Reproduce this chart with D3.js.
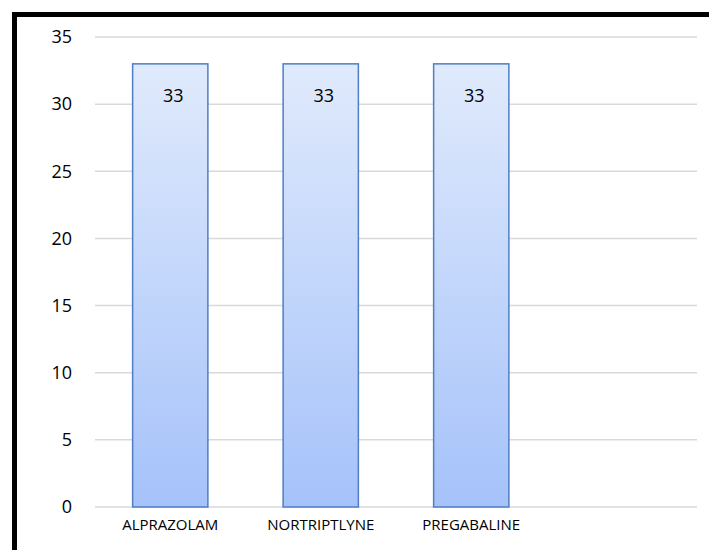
<!DOCTYPE html>
<html>
<head>
<meta charset="utf-8">
<script src="https://cdn.jsdelivr.net/npm/d3@7"></script>
<style>
  body { margin: 0; background: #fff; }
  svg { display: block; font-family: 'Open Sans', sans-serif; }
</style>
</head>
<body>
<svg></svg>
<script>
// data
const categories = ['ALPRAZOLAM', 'NORTRIPTLYNE', 'PREGABALINE', '']
const values = [33, 33, 33, null]
const yTicks = [0, 5, 10, 15, 20, 25, 30, 35]

const width = 709
const height = 550
// plot area
const plotLeft = 95
const plotRight = 697
const plotTop = 37
const plotBottom = 507

const svg = d3.select('svg')
  .attr('width', width)
  .attr('height', height)

// gradient for the bars
const grad = svg.append('defs').append('linearGradient')
  .attr('id', 'barGrad')
  .attr('x1', 0).attr('y1', 0).attr('x2', 0).attr('y2', 1)
grad.append('stop').attr('offset', '0%').attr('stop-color', '#e0eafc')
grad.append('stop').attr('offset', '100%').attr('stop-color', '#a5c2fa')

// frame
svg.append('rect')
  .attr('x', 14.5)
  .attr('y', 14.5)
  .attr('width', 800)
  .attr('height', 600)
  .attr('fill', 'none')
  .attr('stroke', '#000')
  .attr('stroke-width', 5)

const xScale = d3.scaleBand()
  .domain(categories)
  .range([plotLeft, plotRight])
  .paddingInner(0.5)
  .paddingOuter(0.25)

const yScale = d3.scaleLinear()
  .domain([0, 35])
  .range([plotBottom, plotTop])

// gridlines
svg.append('g')
  .selectAll('line')
  .data(yTicks)
  .enter()
  .append('line')
  .attr('x1', plotLeft)
  .attr('x2', plotRight)
  .attr('y1', d => yScale(d))
  .attr('y2', d => yScale(d))
  .attr('stroke', '#d9d9d9')
  .attr('stroke-width', 1.5)

// y axis labels
const yAxis = d3.axisLeft(yScale)
  .tickValues(yTicks)
  .tickSize(0)
  .tickPadding(23)
svg.append('g')
  .attr('transform', 'translate(' + plotLeft + ',0)')
  .call(yAxis)
  .call(g => g.select('.domain').remove())
  .selectAll('text')
  .attr('font-family', 'Open Sans, sans-serif')
  .attr('font-size', 18)
  .attr('fill', '#000')

// bars
const data = categories.map((c, i) => ({ cat: c, val: values[i] })).filter(d => d.val != null)

svg.selectAll('rect.bar')
  .data(data)
  .enter()
  .append('rect')
  .attr('class', 'bar')
  .attr('x', d => xScale(d.cat))
  .attr('y', d => yScale(d.val))
  .attr('width', xScale.bandwidth())
  .attr('height', d => plotBottom - yScale(d.val))
  .attr('fill', 'url(#barGrad)')
  .attr('stroke', '#4f7ec4')
  .attr('stroke-width', 1.5)

// value labels
svg.selectAll('text.val')
  .data(data)
  .enter()
  .append('text')
  .attr('class', 'val')
  .attr('x', d => xScale(d.cat) + xScale.bandwidth() / 2 + 3)
  .attr('y', d => yScale(d.val) + 38)
  .attr('text-anchor', 'middle')
  .attr('font-size', 18)
  .text(d => d.val)

// category labels
const xAxis = d3.axisBottom(xScale)
  .tickSize(0)
  .tickPadding(12)
svg.append('g')
  .attr('transform', 'translate(0,' + plotBottom + ')')
  .call(xAxis)
  .call(g => g.select('.domain').remove())
  .selectAll('text')
  .attr('font-family', 'Open Sans, sans-serif')
  .attr('font-size', 15)
  .attr('fill', '#000')
</script>
</body>
</html>
